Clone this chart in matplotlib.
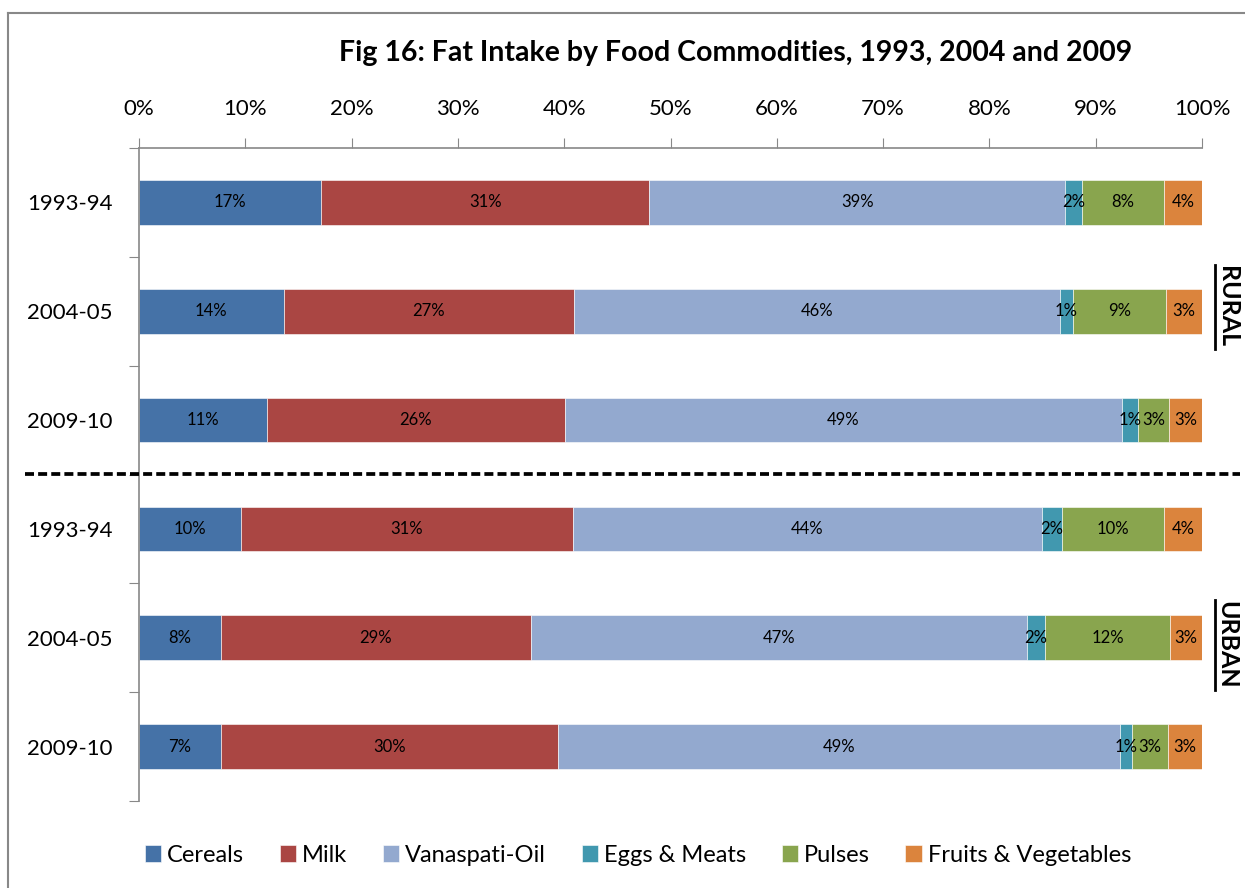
import matplotlib.pyplot as plt
from matplotlib.lines import Line2D
import numpy as np

plt.rcParams['font.family'] = ['Lato', 'DejaVu Sans']

# raw values (share of fat intake, %), rows top to bottom: rural then urban
rows = ['1993-94', '2004-05', '2009-10', '1993-94', '2004-05', '2009-10']
commodities = ['Cereals', 'Milk', 'Vanaspati-Oil', 'Eggs & Meats', 'Pulses', 'Fruits & Vegetables']
cereals = [17.2, 13.6, 11.2, 9.6, 7.7, 7.2]
milk = [30.9, 27.3, 26.0, 31.3, 29.2, 29.5]
vanaspati = [39.2, 45.7, 48.7, 44.2, 46.7, 49.2]
eggs_meats = [1.6, 1.3, 1.4, 1.9, 1.7, 1.1]
pulses = [7.7, 8.7, 2.7, 9.6, 11.8, 3.1]
fruits_veg = [3.6, 3.4, 2.9, 3.6, 3.0, 3.0]
colors = ['#4572A7', '#AA4643', '#93A9CF', '#4198AF', '#89A54E', '#DB843D']

series = np.array([cereals, milk, vanaspati, eggs_meats, pulses, fruits_veg])
totals = series.sum(axis=0)
shares = series / totals * 100  # 100% stacked

fig = plt.figure(figsize=(12.45, 8.88), dpi=100)
ax = fig.add_axes([139/1245, 1 - 801/888, (1202-139)/1245, (801-148)/888])

y = np.arange(len(rows))
left = np.zeros(len(rows))
handles = []
for name, sh, raw, c in zip(commodities, shares, series, colors):
    bars = ax.barh(y, sh, left=left, height=0.41, color=c, edgecolor='white', linewidth=0.4, label=name)
    handles.append(bars)
    for yi, l, w, r in zip(y, left, sh, raw):
        ax.text(l + w / 2, yi, '%d%%' % round(r), ha='center', va='center', fontsize=12, color='black')
    left += sh

ax.set_xlim(0, 100)
ax.set_ylim(5.5, -0.5)
ax.xaxis.tick_top()
ax.set_xticks(np.arange(0, 101, 10))
ax.set_xticklabels(['%d%%' % v for v in range(0, 101, 10)], fontsize=16)
ax.tick_params(axis='x', direction='out', length=7, color='#888888', pad=14)

ax.set_yticks(np.arange(-0.5, 6, 1))
ax.set_yticklabels([])
ax.set_yticks(y, minor=True)
ax.set_yticklabels(rows, minor=True, fontsize=16)
ax.tick_params(axis='y', which='major', direction='out', length=7, color='#888888')
ax.tick_params(axis='y', which='minor', length=0, pad=19)

for s in ['right', 'bottom']:
    ax.spines[s].set_visible(False)
for s in ['top', 'left']:
    ax.spines[s].set_color('#888888')
    ax.spines[s].set_linewidth(1.2)

fig.text(736/1245, 1 - 53/888, 'Fig 16: Fat Intake by Food Commodities, 1993, 2004 and 2009',
         ha='center', va='center', fontsize=20.5, fontweight='bold')

# dashed rural/urban separator
fig.add_artist(Line2D([25/1245, 1240/1245], [1 - 474/888] * 2, color='black', linewidth=2.7,
                      linestyle=(0, (2.4, 1.1))))

# RURAL / URBAN side labels with underline
for label, yc, y0, y1 in [('RURAL', 307, 265, 349), ('URBAN', 645, 600, 690)]:
    fig.text(1227/1245, 1 - yc/888, label, rotation=-90, ha='center', va='center',
             fontsize=18, fontweight='bold')
    fig.add_artist(Line2D([1215/1245] * 2, [1 - y0/888, 1 - y1/888], color='black', linewidth=2))

# figure border (top and left)
fig.add_artist(Line2D([8/1245, 1], [1 - 13/888] * 2, color='#888888', linewidth=1.5))
fig.add_artist(Line2D([8/1245] * 2, [1 - 13/888, 0], color='#888888', linewidth=1.5))

fig.legend(handles, commodities, loc='center', bbox_to_anchor=(638/1245, 1 - 855/888), ncol=6,
           frameon=False, fontsize=17, handlelength=0.7, handleheight=0.7, handletextpad=0.25,
           columnspacing=1.5)

fig.savefig('out.png', dpi=100)
